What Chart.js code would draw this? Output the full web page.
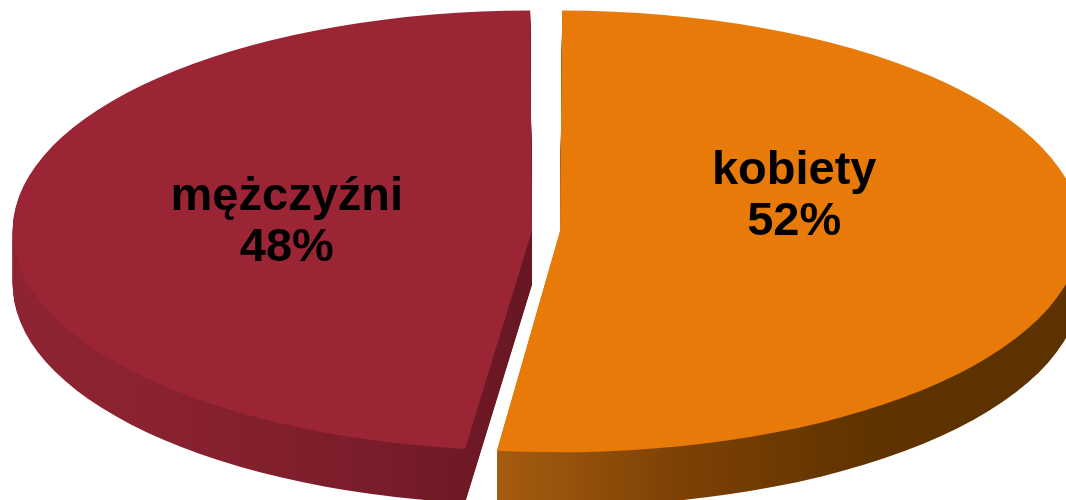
<!DOCTYPE html>
<html lang="pl">
<head>
<meta charset="utf-8">
<title>kobiety / mężczyźni</title>
<script src="https://cdn.jsdelivr.net/npm/chart.js@4.4.1/dist/chart.umd.min.js"></script>
<style>
    html, body { margin: 0; padding: 0; background: #ffffff; }
    #wrap { width: 1066px; height: 500px; position: relative; overflow: hidden; }
</style>
</head>
<body>
<div id="wrap"><canvas id="pie"></canvas></div>
<script>
const labels = ['kobiety', 'mężczyźni'];
const shares = [52, 48];

const topColors = ['#E87A0A', '#9B2535'];
const sideColors = [
    ['#A65C10', '#7C4004', '#5E3300', '#5C3200'],
    ['#8E2432', '#88212F', '#7A1D2A', '#671722'],
];

const tilt = 0.424;           // vertical squash of the disc
const depth = 54;             // thickness of the disc in px
const labelNudge = [[4, -54], [-15, -14]]; // first text line relative to label anchor
const lineGap = 51;

const sliceSpan = (arc) => {
    let min = Infinity;
    let max = -Infinity;
    const r = arc.outerRadius;
    for (let i = 0; i <= 60; i++) {
        const a = arc.startAngle + (arc.endAngle - arc.startAngle) * i / 60;
        const x = arc.x + Math.cos(a) * r;
        min = Math.min(min, x);
        max = Math.max(max, x);
    }
    min = Math.min(min, arc.x);
    max = Math.max(max, arc.x);
    return [min, max];
};

const pie3d = {
    id: 'pie3d',
    beforeDatasetsDraw(chart) {
        const ctx = chart.ctx;
        const meta = chart.getDatasetMeta(0);
        const cy = (chart.chartArea.top + chart.chartArea.bottom) / 2;
        const squash = () => {
            ctx.translate(0, cy);
            ctx.scale(1, tilt);
            ctx.translate(0, -cy);
        };

        // side walls: the slice repeated downwards in a shaded colour
        meta.data.forEach((arc, i) => {
            const [x0, x1] = sliceSpan(arc);
            const grad = ctx.createLinearGradient(x0, 0, x1, 0);
            const stops = sideColors[i];
            stops.forEach((c, k) => grad.addColorStop(k / (stops.length - 1), c));
            const ghost = Object.create(arc);
            ghost.options = Object.assign({}, arc.options, {backgroundColor: grad, borderWidth: 0});
            for (let d = depth; d >= 1; d--) {
                ctx.save();
                ctx.translate(0, d);
                squash();
                ghost.draw(ctx);
                ctx.restore();
            }
        });

        // top faces
        ctx.save();
        squash();
        meta.data.forEach((arc) => arc.draw(ctx));
        ctx.restore();
        return false;
    },
    afterDraw(chart) {
        const ctx = chart.ctx;
        const meta = chart.getDatasetMeta(0);
        const cy = (chart.chartArea.top + chart.chartArea.bottom) / 2;
        const total = shares.reduce((a, b) => a + b, 0);
        ctx.save();
        ctx.fillStyle = '#000000';
        ctx.font = 'bold 47px "Liberation Sans", Arial, sans-serif';
        ctx.textAlign = 'center';
        ctx.textBaseline = 'alphabetic';
        meta.data.forEach((arc, i) => {
            const mid = (arc.startAngle + arc.endAngle) / 2;
            const dist = (arc.options.offset || 0) / 4 + arc.outerRadius * 0.455;
            const x = arc.x + Math.cos(mid) * dist + labelNudge[i][0];
            const y = cy + Math.sin(mid) * dist * tilt + labelNudge[i][1];
            const pct = Math.round(shares[i] / total * 100) + '%';
            ctx.fillText(labels[i], x, y);
            ctx.fillText(pct, x, y + lineGap);
        });
        ctx.restore();
    },
};

new Chart(document.getElementById('pie'), {
    type: 'pie',
    data: {
        labels: labels,
        datasets: [
            {
                data: shares,
                backgroundColor: topColors,
                borderWidth: 0,
                offset: 56,
                clip: false,
            },
        ],
    },
    options: {
        responsive: true,
        maintainAspectRatio: false,
        animation: false,
        events: [],
        radius: 507,
        layout: {
            padding: {left: 26, right: 0, top: 0, bottom: 38},
        },
        plugins: {
            legend: {display: false},
            tooltip: {enabled: false},
        },
    },
    plugins: [pie3d],
});
</script>
</body>
</html>
